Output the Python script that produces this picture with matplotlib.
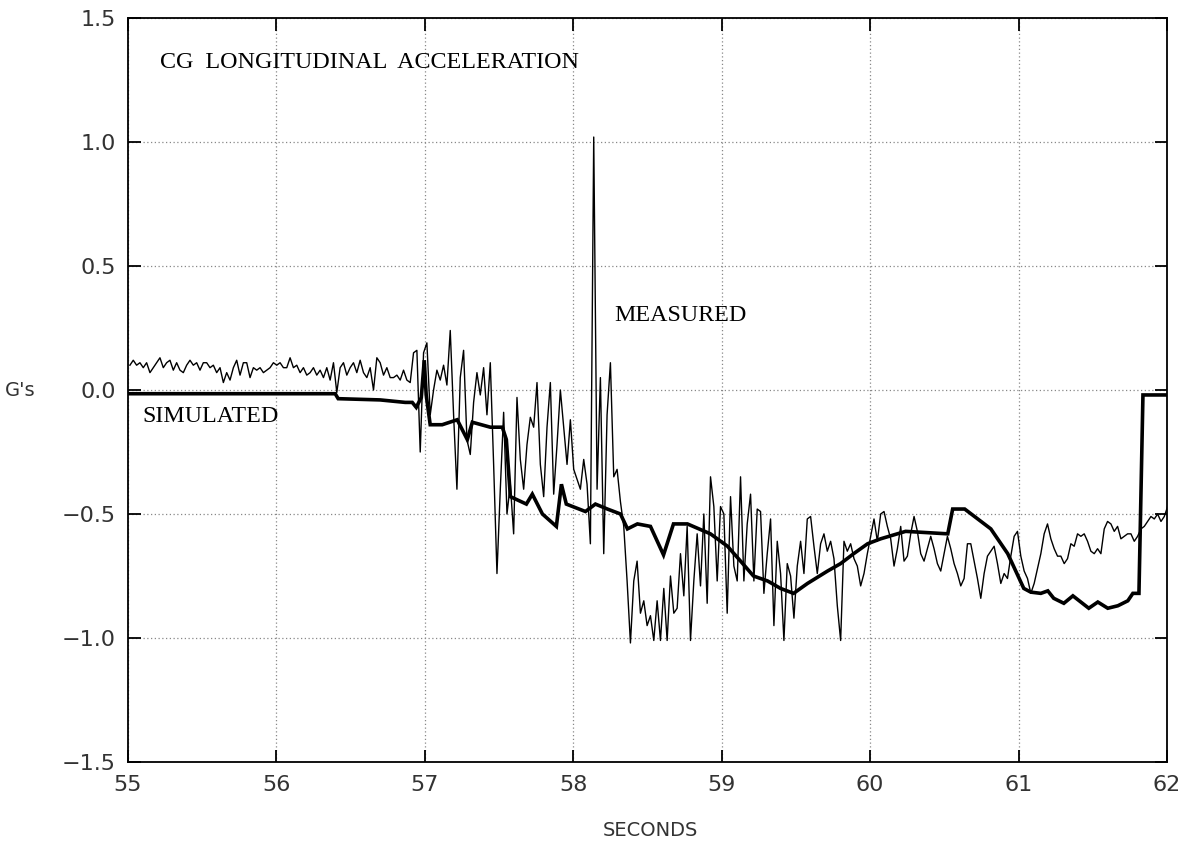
import numpy as np
import matplotlib
matplotlib.use("Agg")
import matplotlib.pyplot as plt

# ---------------- data ----------------
title_text = "CG  LONGITUDINAL  ACCELERATION"
measured_label = "MEASURED"
simulated_label = "SIMULATED"
x_label = "SECONDS"
y_label = "G's"
x_ticks = [55, 56, 57, 58, 59, 60, 61, 62]
y_ticks = [-1.5, -1.0, -0.5, 0.0, 0.5, 1.0, 1.5]

# measured signal: uniformly sampled
meas_t0 = 55.013
meas_dt = 0.02248
measured = [
    0.10, 0.12, 0.10, 0.11, 0.09, 0.11, 0.07, 0.09, 0.11, 0.13,
    0.09, 0.11, 0.12, 0.08, 0.11, 0.08, 0.07, 0.10, 0.12, 0.10,
    0.11, 0.08, 0.11, 0.11, 0.09, 0.10, 0.07, 0.09, 0.03, 0.07,
    0.04, 0.09, 0.12, 0.06, 0.11, 0.11, 0.05, 0.09, 0.08, 0.09,
    0.07, 0.08, 0.09, 0.11, 0.10, 0.11, 0.09, 0.09, 0.13, 0.09,
    0.10, 0.07, 0.09, 0.06, 0.07, 0.09, 0.06, 0.08, 0.05, 0.09,
    0.04, 0.11, -0.01, 0.09, 0.11, 0.06, 0.09, 0.11, 0.07, 0.12,
    0.07, 0.05, 0.09, 0.00, 0.13, 0.11, 0.06, 0.09, 0.05, 0.05,
    0.06, 0.04, 0.08, 0.04, 0.03, 0.15,
    0.16, -0.25, 0.15, 0.19, -0.10, 0.00, 0.08, 0.04, 0.10, 0.02,
    0.24, -0.10, -0.40, 0.05, 0.16, -0.20, -0.26, -0.05, 0.07, -0.02,
    0.09, -0.10, 0.11, -0.30, -0.74, -0.40, -0.09, -0.50, -0.38, -0.58,
    -0.03, -0.28, -0.40, -0.22, -0.11, -0.15, 0.03, -0.30, -0.43, -0.15,
    0.03, -0.42, -0.22, 0.00, -0.15, -0.30, -0.12, -0.32, -0.36, -0.40,
    -0.28, -0.38, -0.62, 1.02, -0.40, 0.05, -0.66, -0.10, 0.11, -0.35,
    -0.32, -0.45, -0.55, -0.77, -1.02, -0.77, -0.69, -0.90, -0.85, -0.95,
    -0.91, -1.01, -0.85, -1.01, -0.80, -1.01, -0.75, -0.90, -0.88, -0.66,
    -0.83, -0.55, -1.01, -0.77, -0.58, -0.79, -0.50, -0.86, -0.35, -0.47,
    -0.77, -0.47, -0.50, -0.90, -0.43, -0.71, -0.77, -0.35,
    -0.77, -0.54, -0.42, -0.77, -0.48, -0.49, -0.82, -0.66, -0.52, -0.95,
    -0.61, -0.74, -1.01, -0.70, -0.75, -0.92, -0.71, -0.61, -0.74, -0.52,
    -0.51, -0.63, -0.74, -0.62, -0.58, -0.65, -0.61, -0.68, -0.87, -1.01,
    -0.61, -0.65, -0.62, -0.68, -0.71, -0.79, -0.74, -0.66, -0.59, -0.52,
    -0.61, -0.50, -0.49, -0.55, -0.60,
    -0.71, -0.64, -0.55, -0.69, -0.67, -0.58, -0.51, -0.57, -0.66, -0.69,
    -0.64, -0.59, -0.64, -0.70, -0.73, -0.66, -0.59, -0.64, -0.70, -0.74,
    -0.79, -0.76, -0.62, -0.62, -0.69, -0.76, -0.84, -0.74, -0.67, -0.65,
    -0.63, -0.70, -0.78, -0.74, -0.76, -0.67, -0.59, -0.57, -0.67, -0.73,
    -0.76,
    -0.82, -0.78, -0.72, -0.66, -0.58, -0.54, -0.60, -0.64, -0.67, -0.67,
    -0.70, -0.68, -0.62, -0.63, -0.58, -0.59, -0.58, -0.61, -0.65, -0.66,
    -0.64, -0.66, -0.56, -0.53, -0.54, -0.57, -0.55, -0.60, -0.59, -0.58,
    -0.58, -0.61, -0.59, -0.56, -0.55, -0.53, -0.51, -0.52, -0.50, -0.53,
    -0.51, -0.47,
]

sim_t = [
    55.000, 56.396, 56.416, 56.699, 56.868, 56.915, 56.942, 56.976, 56.996, 57.009,
    57.036, 57.117, 57.218, 57.252, 57.286, 57.320, 57.441, 57.522, 57.549, 57.576,
    57.684, 57.724, 57.792, 57.886, 57.920, 57.953, 58.082, 58.149, 58.230, 58.318,
    58.365, 58.432, 58.520, 58.608, 58.675, 58.769, 58.924, 59.039, 59.127, 59.214,
    59.309, 59.396, 59.484, 59.578, 59.713, 59.801, 59.889, 59.983, 60.071, 60.239,
    60.523, 60.556, 60.637, 60.813, 60.927, 61.035, 61.082, 61.150, 61.197, 61.237,
    61.305, 61.366, 61.473, 61.534, 61.601, 61.669, 61.736, 61.770, 61.811, 61.838,
    62.000,
]
sim_g = [
    -0.015, -0.015, -0.035, -0.040, -0.050, -0.050, -0.070, -0.030, 0.120, -0.020,
    -0.140, -0.140, -0.120, -0.160, -0.200, -0.130, -0.150, -0.150, -0.200, -0.430,
    -0.460, -0.420, -0.500, -0.550, -0.380, -0.460, -0.490, -0.460, -0.480, -0.500,
    -0.560, -0.540, -0.550, -0.665, -0.540, -0.540, -0.580, -0.630, -0.690, -0.750,
    -0.770, -0.800, -0.820, -0.780, -0.730, -0.700, -0.660, -0.620, -0.600, -0.570,
    -0.580, -0.480, -0.480, -0.560, -0.660, -0.800, -0.815, -0.820, -0.810, -0.840,
    -0.860, -0.830, -0.880, -0.855, -0.880, -0.870, -0.850, -0.820, -0.820, -0.020,
    -0.020,
]

meas_t = meas_t0 + meas_dt * np.arange(len(measured))

# ---------------- figure ----------------
fig = plt.figure(figsize=(11.89, 8.46), dpi=100)
ax = fig.add_axes([128 / 1189, 1 - 762 / 846, (1167 - 128) / 1189, (762 - 18) / 846])

ax.plot(meas_t, measured, color="black", lw=1.0, zorder=3)
ax.plot(sim_t, sim_g, color="black", lw=2.6, zorder=4, solid_joinstyle="miter")

ax.set_xlim(55, 62)
ax.set_ylim(-1.5, 1.5)
ax.set_xticks(x_ticks)
ax.set_yticks(y_ticks)
ax.set_xticklabels([str(v) for v in x_ticks])
ax.set_yticklabels([f"{v:.1f}".replace("-", "\u2212") for v in y_ticks])

ax.grid(True, color="#888888", linestyle=(0, (1, 2)), linewidth=0.9)
ax.set_axisbelow(True)
for s in ax.spines.values():
    s.set_linewidth(1.3)
ax.tick_params(direction="in", length=9, width=1.3, top=True, right=True,
               labelsize=16, labelcolor="#333333", pad=9)

fig.text(20 / 1189, 1 - 390 / 846, y_label, ha="center", va="center",
         fontsize=14, color="#333333")
fig.text(650 / 1189, 1 - 830 / 846, x_label, ha="center", va="center",
         fontsize=14, color="#333333")

serif = "Liberation Serif"
ax.text(55.216, 1.32, title_text, family=serif, fontsize=17.3, va="center", ha="left")
ax.text(58.277, 0.30, measured_label, family=serif, fontsize=17.3, va="center", ha="left")
ax.text(55.10, -0.105, simulated_label, family=serif, fontsize=17.3, va="center", ha="left")

fig.savefig("out.png", dpi=100)
